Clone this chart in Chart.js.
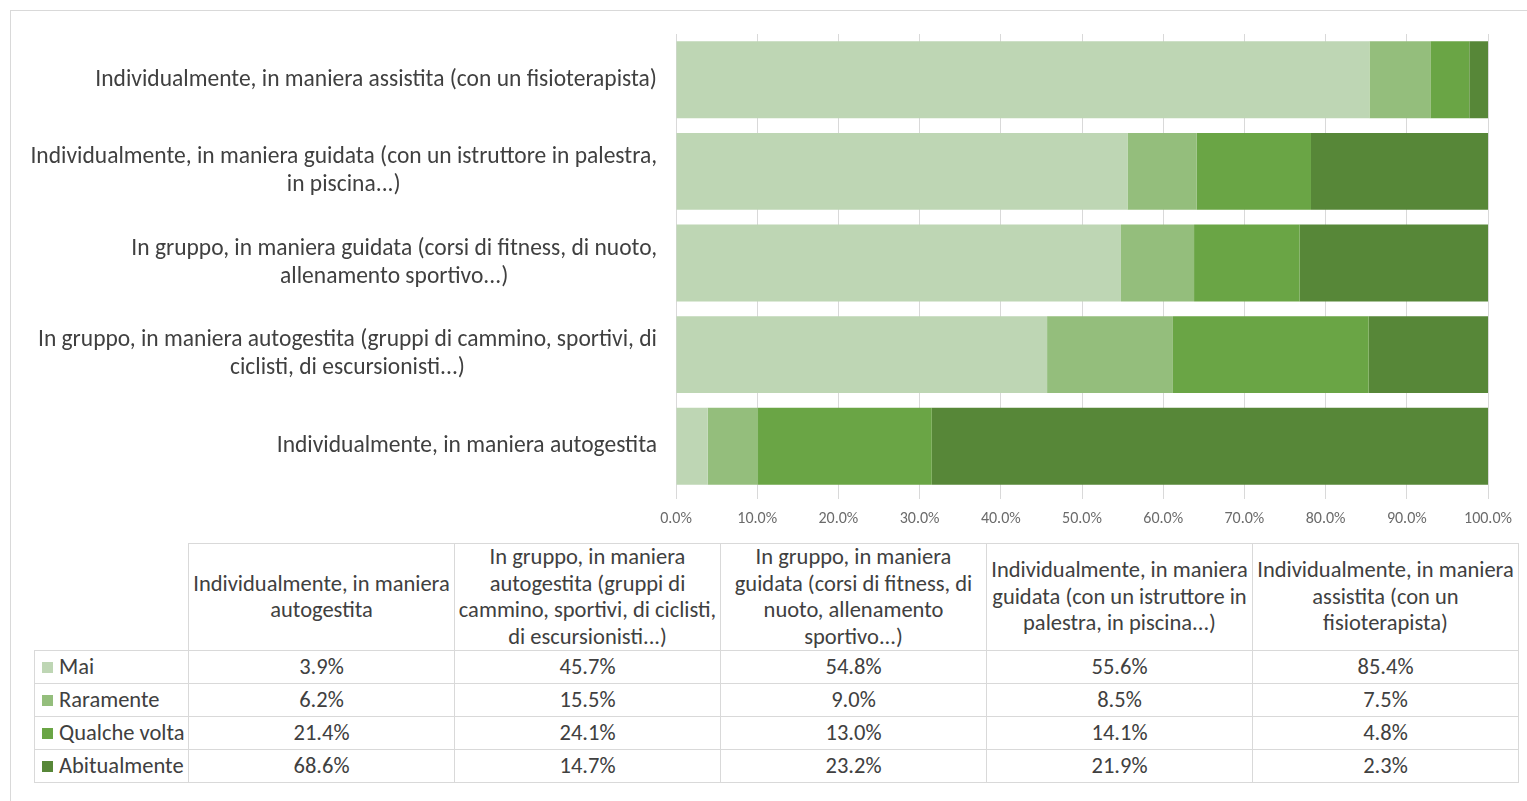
<!DOCTYPE html>
<html>
<head>
<meta charset="utf-8">
<script src="https://cdn.jsdelivr.net/npm/chart.js@4/dist/chart.umd.min.js"></script>
<style>
  html, body { margin: 0; padding: 0; background: #fff; width: 1527px; height: 801px; overflow: hidden; }
  #frame { position: absolute; left: 10px; top: 10px; width: 1540px; height: 820px; border: 1px solid #d9d9d9; box-sizing: border-box; }
  #chartBox { position: absolute; left: 0; top: 0; width: 1527px; height: 540px; }
  #dataTable { position: absolute; left: 34px; top: 543px; border-collapse: collapse; table-layout: fixed;
    font-family: Carlito, Lato, sans-serif; font-size: 22.5px; color: #404040; }
  #dataTable th, #dataTable td { border: 1px solid #d9d9d9; padding: 0; }
  #dataTable th { font-weight: normal; text-align: center; vertical-align: middle; line-height: 26.5px; height: 106px; white-space: nowrap; }
  #dataTable td { height: 32px; line-height: 32px; text-align: center; vertical-align: middle; }
  #dataTable th.corner { border-top: none; border-left: none; }
  #dataTable td.rowHead { text-align: left; padding-left: 7px; white-space: nowrap; }
  .key { display: inline-block; width: 11px; height: 11px; margin-right: 6px; vertical-align: 1px; }
</style>
</head>
<body>
<div id="frame"></div>
<div id="chartBox"><canvas id="chart"></canvas></div>
<table id="dataTable"></table>
<script>
// Activity modes (table order; the chart lists them bottom-up)
const categories = [
  "Individualmente, in maniera autogestita",
  "In gruppo, in maniera autogestita (gruppi di cammino, sportivi, di ciclisti, di escursionisti...)",
  "In gruppo, in maniera guidata (corsi di fitness, di nuoto, allenamento sportivo...)",
  "Individualmente, in maniera guidata (con un istruttore in palestra, in piscina...)",
  "Individualmente, in maniera assistita (con un fisioterapista)"
];

// Wrapped category labels beside the bars
const axisLabelLines = [
  ["Individualmente, in maniera autogestita"],
  ["In gruppo, in maniera autogestita (gruppi di cammino, sportivi, di", "ciclisti, di escursionisti...)"],
  ["In gruppo, in maniera guidata (corsi di fitness, di nuoto,", "allenamento sportivo...)"],
  ["Individualmente, in maniera guidata (con un istruttore in palestra,", "in piscina...)"],
  ["Individualmente, in maniera assistita (con un fisioterapista)"]
];

// Wrapped category labels in the table header
const headerLines = [
  ["Individualmente, in maniera", "autogestita"],
  ["In gruppo, in maniera", "autogestita (gruppi di", "cammino, sportivi, di ciclisti,", "di escursionisti...)"],
  ["In gruppo, in maniera", "guidata (corsi di fitness, di", "nuoto, allenamento", "sportivo...)"],
  ["Individualmente, in maniera", "guidata (con un istruttore in", "palestra, in piscina...)"],
  ["Individualmente, in maniera", "assistita (con un", "fisioterapista)"]
];

// Frequency answers (%)
const seriesNames = ["Mai", "Raramente", "Qualche volta", "Abitualmente"];
const mai          = [3.9, 45.7, 54.8, 55.6, 85.4];
const raramente    = [6.2, 15.5, 9.0, 8.5, 7.5];
const qualcheVolta = [21.4, 24.1, 13.0, 14.1, 4.8];
const abitualmente = [68.6, 14.7, 23.2, 21.9, 2.3];

// Percentage axis ticks
const axisTicks = [0, 10, 20, 30, 40, 50, 60, 70, 80, 90, 100];

const seriesValues = [mai, raramente, qualcheVolta, abitualmente];
const seriesColors = ["#bed6b4", "#94be7c", "#6aa545", "#578738"];

const FONT = "Carlito, Lato, sans-serif";
const TEXT = "#404040";

// Category labels: block right-aligned to the plot, each line centred within its block
const categoryLabels = {
  id: "categoryLabels",
  afterDraw(chart) {
    const { ctx, chartArea } = chart;
    const y = chart.scales.y;
    ctx.save();
    ctx.font = "23.5px " + FONT;
    ctx.fillStyle = TEXT;
    ctx.textAlign = "center";
    ctx.textBaseline = "middle";
    const right = chartArea.left - 19;
    const lh = 28;
    axisLabelLines.forEach((lines, i) => {
      const yc = y.getPixelForValue(i);
      const w = Math.max(...lines.map(l => ctx.measureText(l).width));
      const cx = right - w / 2;
      lines.forEach((l, k) => ctx.fillText(l, cx, yc + (k - (lines.length - 1) / 2) * lh));
    });
    ctx.restore();
  }
};

new Chart(document.getElementById("chart"), {
  type: "bar",
  data: {
    labels: categories,
    datasets: seriesNames.map((name, i) => ({
      label: name,
      data: seriesValues[i],
      backgroundColor: seriesColors[i],
      borderWidth: 0,
      categoryPercentage: 1,
      barPercentage: 0.84
    }))
  },
  options: {
    indexAxis: "y",
    responsive: true,
    maintainAspectRatio: false,
    animation: false,
    layout: { padding: { top: 34, right: 39, bottom: 0, left: 0 } },
    plugins: { legend: { display: false }, tooltip: { enabled: false } },
    scales: {
      x: {
        stacked: true,
        min: 0,
        max: 100,
        afterBuildTicks: s => { s.ticks = axisTicks.map(v => ({ value: v })); },
        afterFit: s => { s.height = 48; },
        grid: { color: "#d9d9d9", lineWidth: 1, tickLength: 7, drawTicks: true },
        border: { display: false },
        ticks: {
          padding: 10,
          color: "#6b6b6b",
          font: { family: FONT, size: 16 },
          callback: v => Number(v).toFixed(1) + "%"
        }
      },
      y: {
        stacked: true,
        reverse: true,
        afterFit: s => { s.width = 676; },
        grid: { display: false },
        border: { display: false },
        ticks: { display: false }
      }
    }
  },
  plugins: [categoryLabels]
});

// Data table beneath the chart
(function buildTable() {
  const table = document.getElementById("dataTable");
  const colgroup = document.createElement("colgroup");
  [154, 266, 266, 266, 266, 266].forEach(w => {
    const c = document.createElement("col");
    c.style.width = w + "px";
    colgroup.appendChild(c);
  });
  table.appendChild(colgroup);

  const head = document.createElement("tr");
  const corner = document.createElement("th");
  corner.className = "corner";
  head.appendChild(corner);
  headerLines.forEach(lines => {
    const th = document.createElement("th");
    lines.forEach((l, k) => {
      if (k) th.appendChild(document.createElement("br"));
      th.appendChild(document.createTextNode(l));
    });
    head.appendChild(th);
  });
  table.appendChild(head);

  seriesNames.forEach((name, i) => {
    const tr = document.createElement("tr");
    const rh = document.createElement("td");
    rh.className = "rowHead";
    const key = document.createElement("span");
    key.className = "key";
    key.style.background = seriesColors[i];
    rh.appendChild(key);
    rh.appendChild(document.createTextNode(name));
    tr.appendChild(rh);
    seriesValues[i].forEach(v => {
      const td = document.createElement("td");
      td.textContent = v.toFixed(1) + "%";
      tr.appendChild(td);
    });
    table.appendChild(tr);
  });
})();
</script>
</body>
</html>
